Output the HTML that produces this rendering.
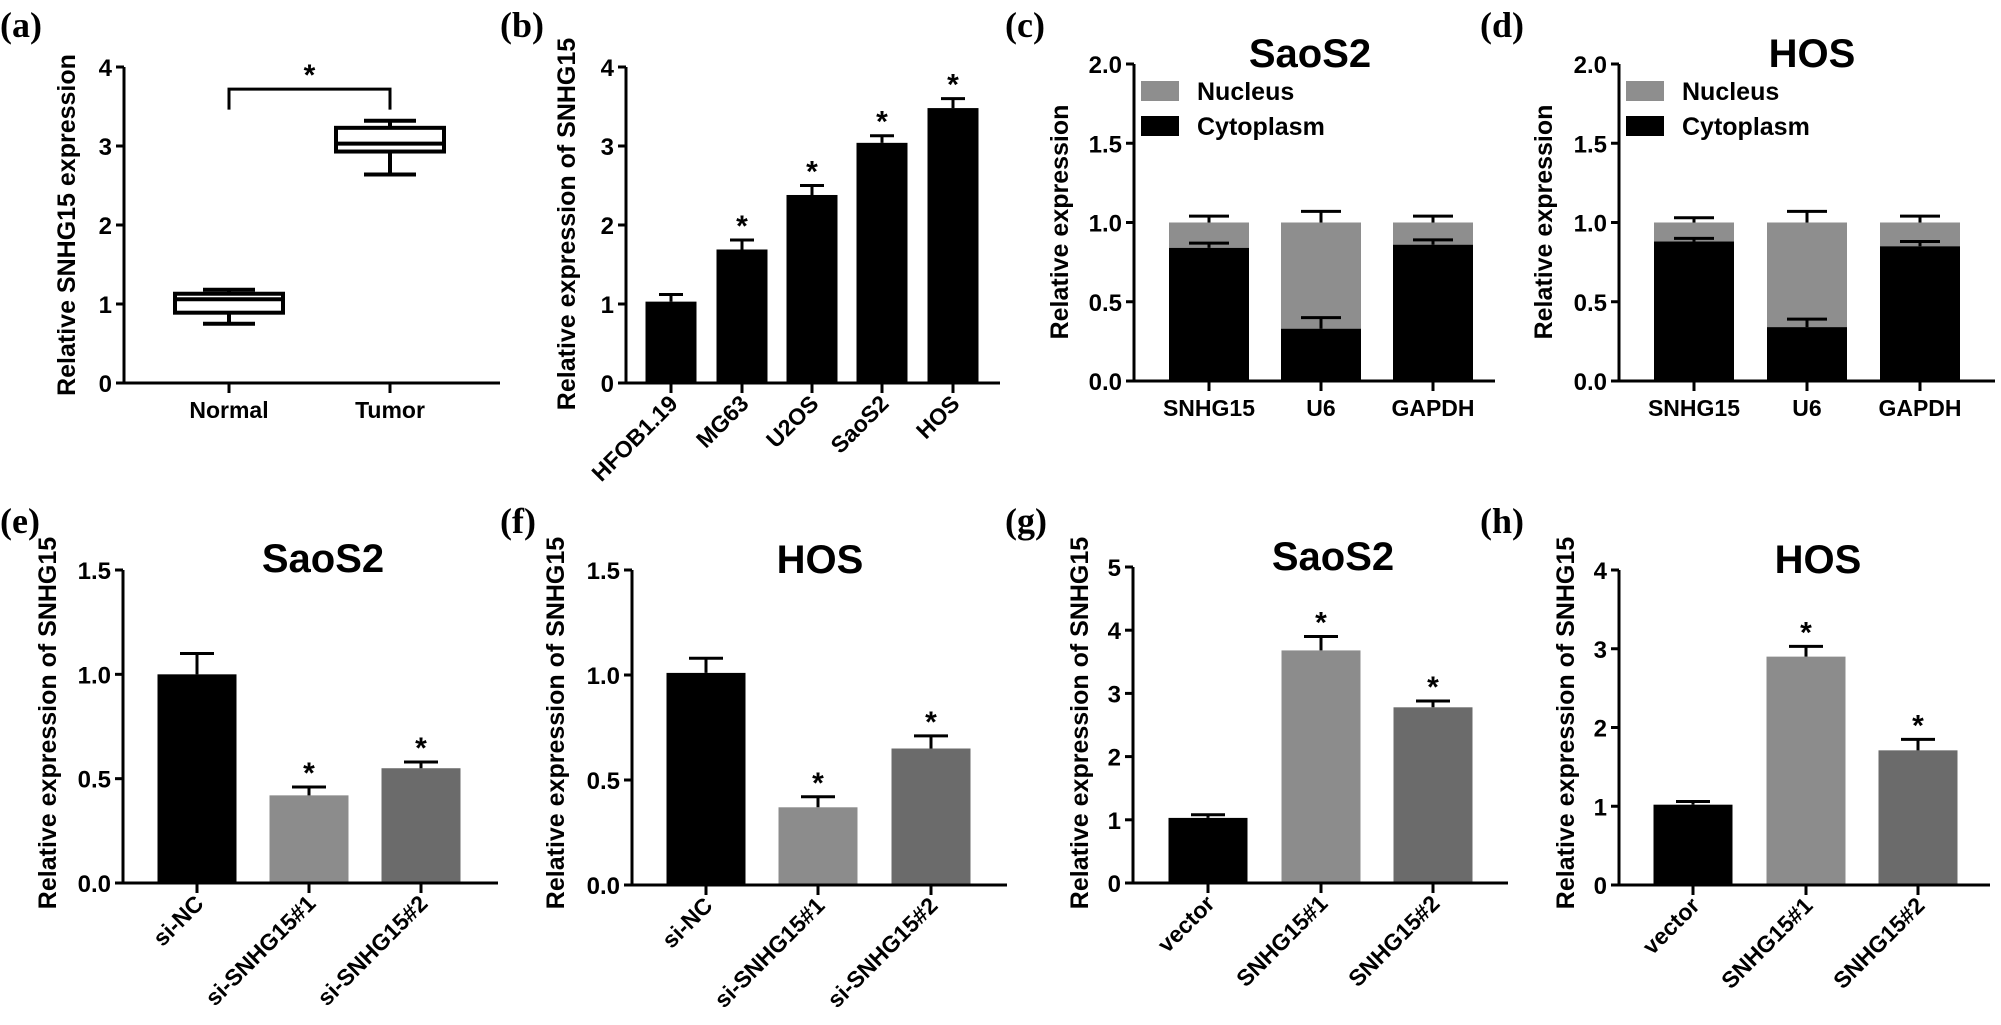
<!DOCTYPE html>
<html><head><meta charset="utf-8"><style>
html,body{margin:0;padding:0;background:#fff;}
svg{display:block;font-family:"Liberation Sans",Arial,sans-serif;font-weight:bold;}
</style></head><body>
<svg id="fig" width="2001" height="1025" viewBox="0 0 2001 1025" xmlns="http://www.w3.org/2000/svg"></svg>
<script>
// ---- data ----
const aCats=["Normal","Tumor"];
const aMin=[0.75,2.64];
const aQ1=[0.89,2.93];
const aMed=[1.06,3.03];
const aQ3=[1.13,3.23];
const aMax=[1.18,3.32];
const aTicks=[0,1,2,3,4];

const bCats=["HFOB1.19","MG63","U2OS","SaoS2","HOS"];
const bVals=[1.03,1.69,2.38,3.04,3.48];
const bErr=[0.09,0.12,0.12,0.09,0.12];
const bStar=[false,true,true,true,true];
const bTicks=[0,1,2,3,4];

const cdCats=["SNHG15","U6","GAPDH"];
const cCyto=[0.84,0.33,0.86];
const cCytoErr=[0.03,0.07,0.03];
const cTotal=[1.0,1.0,1.0];
const cTotalErr=[0.04,0.07,0.04];
const dCyto=[0.88,0.34,0.85];
const dCytoErr=[0.02,0.05,0.03];
const dTotal=[1.0,1.0,1.0];
const dTotalErr=[0.03,0.07,0.04];
const cdTicks=["0.0","0.5","1.0","1.5","2.0"];
const legendLabels=["Nucleus","Cytoplasm"];

const efCats=["si-NC","si-SNHG15#1","si-SNHG15#2"];
const eVals=[1.0,0.42,0.55];
const eErr=[0.1,0.04,0.03];
const fVals=[1.01,0.37,0.65];
const fErr=[0.07,0.05,0.06];
const efTicks=["0.0","0.5","1.0","1.5"];

const ghCats=["vector","SNHG15#1","SNHG15#2"];
const gVals=[1.03,3.68,2.78];
const gErr=[0.05,0.22,0.1];
const gTicks=["0","1","2","3","4","5"];
const hVals=[1.02,2.9,1.71];
const hErr=[0.04,0.13,0.14];
const hTicks=["0","1","2","3","4"];
const sigStars=[false,true,true];

// ---- drawing ----
const NS="http://www.w3.org/2000/svg";
const svg=document.getElementById('fig');
function mk(tag,attrs,parent){const e=document.createElementNS(NS,tag);for(const k in attrs)e.setAttribute(k,attrs[k]);(parent||svg).appendChild(e);return e;}
function scale(geo){return v=>geo.y0-(v/geo.max)*(geo.y0-geo.yTop);}

function panelLabel(txt,x,y){
  const t=mk('text',{x:x,y:y,'font-family':'"Liberation Serif",serif','font-size':36,'font-weight':'bold'});
  t.textContent=txt;
  
  
}

function axes(g,geo,ticks,tickVals){
  const y=scale(geo);
  const ya=mk('line',{x1:geo.ax,y1:geo.yTop,x2:geo.ax,y2:geo.y0+1.5,stroke:'#000','stroke-width':3},g);
  
  
  const xa=mk('line',{x1:geo.ax-8,y1:geo.y0,x2:geo.xEnd,y2:geo.y0,stroke:'#000','stroke-width':3},g);
  
  
  ticks.forEach((lab,i)=>{
    const v=tickVals[i];
    const tk=mk('line',{x1:geo.ax-8,y1:y(v),x2:geo.ax,y2:y(v),stroke:'#000','stroke-width':3},g);
    
    
    const t=mk('text',{x:geo.ax-12,y:y(v)+9,'text-anchor':'end','font-size':24},g);
    t.textContent=lab;
    
    
  });
  const tt=mk('text',{x:0,y:0,'text-anchor':'middle','font-size':25,transform:`translate(${geo.ytx},${geo.yty}) rotate(-90)`},g);
  tt.textContent=geo.ytitle;
  
  
  if(geo.title){
    const ti=mk('text',{x:geo.titleX,y:geo.titleY,'text-anchor':'middle','font-size':40},g);
    ti.textContent=geo.title;
    
    
  }
}

function catLabels(g,geo,cats,rot){
  cats.forEach((c,i)=>{
    const cx=geo.cx[i];
    const tk=mk('line',{x1:cx,y1:geo.y0,x2:cx,y2:geo.y0+10,stroke:'#000','stroke-width':3},g);
    
    
    let t;
    if(rot){
      t=mk('text',{x:0,y:0,'text-anchor':'end','font-size':23,transform:`translate(${cx+8},${geo.y0+22}) rotate(-45)`},g);
    } else {
      t=mk('text',{x:cx,y:geo.y0+35,'text-anchor':'middle','font-size':23},g);
    }
    t.textContent=c;
    
    
  });
}

function errBar(g,cx,yTopV,yBase,cap){
  const l=mk('path',{d:`M${cx},${yBase}V${yTopV}M${cx-cap/2},${yTopV}H${cx+cap/2}`,stroke:'#000','stroke-width':3,fill:'none'},g);
  
  
}
function star(g,cx,yv){
  const s=mk('text',{x:cx,y:yv+2,'text-anchor':'middle','font-size':30},g);
  s.textContent='*';
  
  
}

function barPanel(name,geo,cats,vals,errs,stars,colors,ticks,tickVals,rot){
  const g=mk('g',{});
  
  
  const y=scale(geo);
  vals.forEach((v,i)=>{
    const cx=geo.cx[i];
    const r=mk('rect',{x:cx-geo.bw/2,y:y(v),width:geo.bw,height:geo.y0-y(v),fill:colors[i]},g);
    
    
    errBar(g,cx,y(v+errs[i]),y(v),geo.cap);
    if(stars[i])star(g,cx,y(v+errs[i])-6);
  });
  axes(g,geo,ticks,tickVals);
  catLabels(g,geo,cats,rot);
}

function stackPanel(name,geo,cyto,cytoErr,total,totalErr){
  const g=mk('g',{});
  
  
  const y=scale(geo);
  cdCats.forEach((c,i)=>{
    const cx=geo.cx[i];
    const n=mk('rect',{x:cx-geo.bw/2,y:y(total[i]),width:geo.bw,height:y(cyto[i])-y(total[i]),fill:'#8e8e8e'},g);
    
    
    errBar(g,cx,y(total[i]+totalErr[i]),y(total[i]),geo.cap);
    const r=mk('rect',{x:cx-geo.bw/2,y:y(cyto[i]),width:geo.bw,height:geo.y0-y(cyto[i]),fill:'#000'},g);
    
    
    errBar(g,cx,y(cyto[i]+cytoErr[i]),y(cyto[i]),geo.cap);
  });
  axes(g,geo,cdTicks,[0,0.5,1,1.5,2]);
  catLabels(g,geo,cdCats,false);
  const lg=mk('g',{},g);
  
  
  const lc=['#8e8e8e','#000'];
  legendLabels.forEach((lab,i)=>{
    const sy=81+i*35;
    const sw=mk('rect',{x:geo.ax+7,y:sy,width:38,height:20,fill:lc[i]},lg);
    
    
    const t=mk('text',{x:geo.ax+63,y:sy+19,'font-size':25},lg);
    t.textContent=lab;
    
    
  });
}

// panel labels
panelLabel('(a)',0,37);panelLabel('(b)',500,37);panelLabel('(c)',1005,37);panelLabel('(d)',1480,37);
panelLabel('(e)',0,533);panelLabel('(f)',500,533);panelLabel('(g)',1005,533);panelLabel('(h)',1480,533);

// panel a box plot
(function(){
  const geo={ax:124,yTop:67,y0:383,max:4,xEnd:500,cx:[229,390],ytx:75,yty:225,ytitle:'Relative SNHG15 expression'};
  const g=mk('g',{});
  
  
  const y=scale(geo);
  aCats.forEach((c,i)=>{
    const cx=geo.cx[i];
    const bx=mk('g',{},g);
    
    
    mk('path',{d:`M${cx},${y(aMax[i])}V${y(aQ3[i])}M${cx},${y(aQ1[i])}V${y(aMin[i])}M${cx-26},${y(aMax[i])}H${cx+26}M${cx-26},${y(aMin[i])}H${cx+26}`,stroke:'#000','stroke-width':4,fill:'none'},bx);
    mk('rect',{x:cx-54,y:y(aQ3[i]),width:108,height:y(aQ1[i])-y(aQ3[i]),fill:'#fff',stroke:'#000','stroke-width':4},bx);
    mk('line',{x1:cx-54,y1:y(aMed[i]),x2:cx+54,y2:y(aMed[i]),stroke:'#000','stroke-width':4},bx);
  });
  const br=mk('path',{d:`M${geo.cx[0]},${y(3.46)}V${y(3.72)}H${geo.cx[1]}V${y(3.46)}`,stroke:'#000','stroke-width':3,fill:'none'},g);
  
  
  star(g,(geo.cx[0]+geo.cx[1])/2,y(3.72)-6);
  axes(g,geo,aTicks.map(String),aTicks);
  catLabels(g,geo,aCats,false);
})();

barPanel('panel-b-cell-lines',{ax:626,yTop:67,y0:383,max:4,xEnd:1000,cx:[671,742,812,882,953],bw:51,cap:24,ytx:575,yty:224,ytitle:'Relative expression of SNHG15'},
  bCats,bVals,bErr,bStar,['#000','#000','#000','#000','#000'],bTicks.map(String),bTicks,true);

stackPanel('panel-c-saos2-fraction',{ax:1134,yTop:64,y0:381,max:2,xEnd:1495,cx:[1209,1321,1433],bw:80,cap:40,ytx:1068,yty:222,ytitle:'Relative expression',title:'SaoS2',titleX:1310,titleY:67},cCyto,cCytoErr,cTotal,cTotalErr);
stackPanel('panel-d-hos-fraction',{ax:1619,yTop:64,y0:381,max:2,xEnd:1995,cx:[1694,1807,1920],bw:80,cap:40,ytx:1552,yty:222,ytitle:'Relative expression',title:'HOS',titleX:1812,titleY:67},dCyto,dCytoErr,dTotal,dTotalErr);

const grays=['#000','#8c8c8c','#6b6b6b'];
barPanel('panel-e-saos2-knockdown',{ax:123,yTop:570,y0:883,max:1.5,xEnd:498,cx:[197,309,421],bw:79,cap:34,ytx:56,yty:723,ytitle:'Relative expression of SNHG15',title:'SaoS2',titleX:323,titleY:572},
  efCats,eVals,eErr,sigStars,grays,efTicks,[0,0.5,1,1.5],true);
barPanel('panel-f-hos-knockdown',{ax:632,yTop:570,y0:885,max:1.5,xEnd:1007,cx:[706,818,931],bw:79,cap:34,ytx:564,yty:723,ytitle:'Relative expression of SNHG15',title:'HOS',titleX:820,titleY:573},
  efCats,fVals,fErr,sigStars,grays,efTicks,[0,0.5,1,1.5],true);
barPanel('panel-g-saos2-overexpression',{ax:1133,yTop:567,y0:883,max:5,xEnd:1508,cx:[1208,1321,1433],bw:79,cap:34,ytx:1088,yty:723,ytitle:'Relative expression of SNHG15',title:'SaoS2',titleX:1333,titleY:570},
  ghCats,gVals,gErr,sigStars,grays,gTicks,[0,1,2,3,4,5],true);
barPanel('panel-h-hos-overexpression',{ax:1619,yTop:570,y0:885,max:4,xEnd:1990,cx:[1693,1806,1918],bw:79,cap:34,ytx:1574,yty:723,ytitle:'Relative expression of SNHG15',title:'HOS',titleX:1818,titleY:573},
  ghCats,hVals,hErr,sigStars,grays,hTicks,[0,1,2,3,4],true);
</script>
</body></html>
